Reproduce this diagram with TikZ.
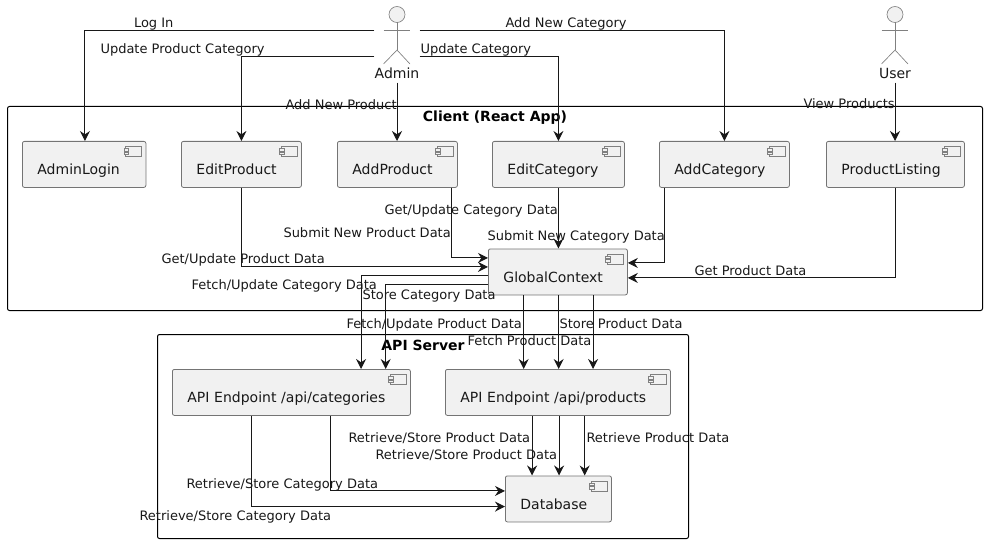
\documentclass[tikz,border=0pt]{standalone}
\usepackage{fontspec}
\setmainfont{DejaVu Sans}
\usetikzlibrary{arrows.meta}
\definecolor{boxfill}{HTML}{F1F1F1}
\definecolor{inkdark}{HTML}{181818}
\newdimen\px
\px=0.75pt
\tikzset{
  comp/.style={rectangle, draw=inkdark!60, fill=boxfill, line width=0.6pt,
               rounded corners=1.5pt, anchor=north west, align=left,
               inner xsep=15\px, inner ysep=0pt, text width=#1\px,
               text height=33.5\px, text depth=12.5\px,
               font=\fontsize{10.5pt}{12pt}\selectfont, text=inkdark},
  zone/.style={rectangle, draw=black, line width=0.75pt, rounded corners=1.5pt,
               anchor=north west, align=center, inner xsep=0pt, inner ysep=0pt,
               text height=15.5\px, text depth=#1\px,
               font=\fontsize{10.5pt}{12pt}\selectfont\bfseries},
  actorbox/.style={rectangle, anchor=north, inner sep=0pt, minimum width=44\px,
                   text height=76\px, text depth=4\px,
                   font=\fontsize{10.5pt}{12pt}\selectfont, text=inkdark},
  link/.style={-{Stealth[length=7.5pt, width=7.5pt, inset=2.5pt]}, line width=0.75pt, color=inkdark},
  lbl/.style={anchor=mid west, yshift=-2\px, inner sep=0pt, font=\fontsize{9.75pt}{12pt}\selectfont, text=inkdark},
}
% small component mark in the top right corner of a box
\newcommand{\compmark}[1]{
  \begin{scope}[shift={(#1.north east)}, draw=inkdark!55, line width=0.4pt]
    \draw[fill=boxfill] (-21,5.5) rectangle (-5,15.5);
    \draw[fill=boxfill] (-22.5,7.5) rectangle (-18,10);
    \draw[fill=boxfill] (-22.5,11) rectangle (-18,13.5);
  \end{scope}
}
% stick figure above an actor name
\newcommand{\stickman}[1]{
  \begin{scope}[shift={(#1.north)}, draw=inkdark!55, line width=0.5pt]
    \draw[fill=boxfill] (0,12.5) circle (8);
    \draw (0,20.5) -- (0,48) (-13.5,28) -- (13,28);
    \draw (-13.5,62) -- (0,48) -- (13,62);
  \end{scope}
}

\begin{document}
\begin{tikzpicture}[x=0.75pt, y=-0.75pt]
  \useasboundingbox (0,0) rectangle (986,542);

  \node[zone=188.5, minimum width=975\px] (client) at (7,106) {Client (React App)};
  \node[zone=188.5, minimum width=531\px] (apiserver) at (157,334) {API Server};

  \node[actorbox] (admin) at (397,2) {Admin};
  \node[actorbox] (user) at (895,2) {User};
  \stickman{admin}
  \stickman{user}

  \node[comp=93.5] (adminlogin) at (22,141) {AdminLogin};
  \node[comp=90] (editproduct) at (181,141) {EditProduct};
  \node[comp=90] (addproduct) at (337,141) {AddProduct};
  \node[comp=102] (editcategory) at (492,141) {EditCategory};
  \node[comp=100] (addcategory) at (659,141) {AddCategory};
  \node[comp=108] (productlisting) at (826,141) {ProductListing};
  \node[comp=109] (globalcontext) at (488,248.5) {GlobalContext};
  \node[comp=208] (apicategories) at (172,369) {API Endpoint /api/categories};
  \node[comp=195] (apiproducts) at (445,369) {API Endpoint /api/products};
  \node[comp=76] (database) at (505,475.5) {Database};

  \foreach \n in {adminlogin,editproduct,addproduct,editcategory,addcategory,
                  productlisting,globalcontext,apicategories,apiproducts,database}
    {\compmark{\n}}

  % actors to client
  \draw[link] ([yshift=12\px]admin.west) -| ([xshift=0.8\px]adminlogin.north)
    node[lbl] (lblogin) at (133.5,22) {Log In};
  \draw[link] ([yshift=-14\px]admin.west) -| (editproduct)
    node[lbl] (lbeditprod) at (100,48) {Update Product Category};
  \draw[link] (admin.south) -- (admin.south |- addproduct.north)
    node[lbl] (lbaddprod) at (285,104) {Add New Product};
  \draw[link] ([yshift=-14\px]admin.east) -| (editcategory)
    node[lbl] (lbeditcat) at (420,48) {Update Category};
  \draw[link] ([yshift=12\px]admin.east) -| (addcategory)
    node[lbl] (lbaddcat) at (505,22) {Add New Category};
  \draw[link] (user.south) -- (user.south |- productlisting.north)
    node[lbl] (lbview) at (803,103) {View Products};

  % client to context
  \draw[link] (editproduct) |- ([yshift=5\px]globalcontext.west)
    node[lbl] (lbgetprod) at (161,258) {Get/Update Product Data};
  \draw[link] ([xshift=54\px]addproduct.south) |- ([yshift=14\px]globalcontext.west)
    node[lbl] (lbsubprod) at (283,232) {Submit New Product Data};
  \draw[link] (editcategory.south) -- (editcategory.south |- globalcontext.north)
    node[lbl] (lbgetcat) at (384,209) {Get/Update Category Data};
  \draw[link] ([xshift=-60\px]addcategory.south) |- ([yshift=9\px]globalcontext.east)
    node[lbl] (lbsubcat) at (487,235) {Submit New Category Data};
  \draw[link] (productlisting) |- ([yshift=-6\px]globalcontext.east)
    node[lbl] (lbgetlist) at (694,270) {Get Product Data};

  % context to api
  \draw[link] ([yshift=-3.7\px]globalcontext.west) -| ([xshift=69.7\px]apicategories.north)
    node[lbl] (lbfetchcat) at (191,284) {Fetch/Update Category Data};
  \draw[link] ([yshift=-13\px]globalcontext.west) -| ([xshift=94.3\px]apicategories.north)
    node[lbl] (lbstorecat) at (362,294) {Store Category Data};
  \draw[link] ([xshift=-34.2\px]globalcontext.south) -- ([xshift=-34.2\px]globalcontext.south |- apiproducts.north)
    node[lbl] (lbfetchupd) at (346,323) {Fetch/Update Product Data};
  \draw[link] ([xshift=0.8\px]globalcontext.south) -- ([xshift=0.8\px]globalcontext.south |- apiproducts.north)
    node[lbl] (lbfetchprod) at (467,340) {Fetch Product Data};
  \draw[link] ([xshift=35.2\px]globalcontext.south) -- ([xshift=35.2\px]globalcontext.south |- apiproducts.north)
    node[lbl] (lbstoreprod) at (559,323) {Store Product Data};

  % api to database
  \draw[link] ([xshift=-39.5\px]apicategories.south) |- ([yshift=-7.7\px]database.west)
    node[lbl] (lbcatlow) at (139,515) {Retrieve/Store Category Data};
  \draw[link] ([xshift=39.3\px]apicategories.south) |- ([yshift=8\px]database.west)
    node[lbl] (lbcatup) at (186,483) {Retrieve/Store Category Data};
  \draw[link] ([xshift=-25.8\px]apiproducts.south) -- ([xshift=-25.8\px]apiproducts.south |- database.north)
    node[lbl] (lbprodup) at (348,437) {Retrieve/Store Product Data};
  \draw[link] ([xshift=1.2\px]apiproducts.south) -- ([xshift=1.2\px]apiproducts.south |- database.north)
    node[lbl] (lbprodlow) at (375,454) {Retrieve/Store Product Data};
  \draw[link] ([xshift=26.8\px]apiproducts.south) -- ([xshift=26.8\px]apiproducts.south |- database.north)
    node[lbl] (lbretr) at (586,437) {Retrieve Product Data};
\end{tikzpicture}
\end{document}
